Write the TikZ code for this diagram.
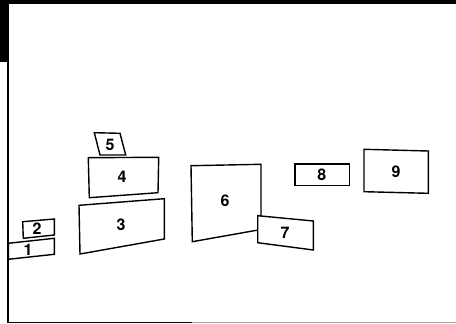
\documentclass[tikz,border=0pt]{standalone}
\usepackage{fontspec}
\setmainfont{TeX Gyre Heros}
\begin{document}
\begin{tikzpicture}[x=1pt,y=-1pt,
  boxline/.style={draw=black,line width=1.4pt,line join=miter,fill=white},
  num/.style={font=\fontsize{16}{16}\selectfont\bfseries,inner sep=0pt}]
\useasboundingbox[fill=white] (0,0) rectangle (456,324);
% scan borders
\fill[black] (0,0) rectangle (456,3.5);
\fill[black] (0,0) rectangle (8.5,62);
\draw[line width=1.8pt] (7.8,0) -- (7.8,322.5);
\draw[line width=1.6pt] (7.8,322.5) -- (192,322.5);
\draw[line width=1pt,black!35] (192,322.8) -- (456,322.8);
% box 1 and 2
\draw[boxline] (8.3,243.3) -- (54.3,238.3) -- (54.3,254.3) -- (8.3,259.3) -- cycle;
\node[num] (n1) at (28,250) {1};
\draw[boxline] (22.7,221.7) -- (54.3,219) -- (54.3,235) -- (23.3,238.3) -- cycle;
\node[num] (n2) at (37,229) {2};
% box 3
\draw[boxline] (79,205.3) -- (164.3,198.7) -- (164.3,239) -- (80,254) -- cycle;
\node[num] (n3) at (121,225) {3};
% box 4
\draw[boxline] (88.3,157.7) -- (158.7,157.3) -- (158,192.7) -- (89.3,197.7) -- cycle;
\node[num] (n4) at (122,177) {4};
% box 5
\draw[boxline] (94.3,132.7) -- (120,133.3) -- (125.7,155) -- (100,155) -- cycle;
\node[num] (n5) at (110,145) {5};
% box 6 and 7
\draw[boxline] (191,165.7) -- (261,164.3) -- (261,229.5) -- (192.3,241.7) -- cycle;
\node[num] (n6) at (225,201) {6};
\draw[boxline] (257.7,215.7) -- (313.3,221) -- (313.3,250) -- (257.7,242.7) -- cycle;
\node[num] (n7) at (285,233) {7};
% box 8
\draw[boxline] (295,164) -- (349.3,164) -- (349.3,185.7) -- (295,185.7) -- cycle;
\node[num] (n8) at (321.7,175) {8};
% box 9
\draw[boxline] (364,149.3) -- (428.3,151) -- (428.3,193.3) -- (364,191.7) -- cycle;
\node[num] (n9) at (396,171.7) {9};
\end{tikzpicture}
\end{document}
